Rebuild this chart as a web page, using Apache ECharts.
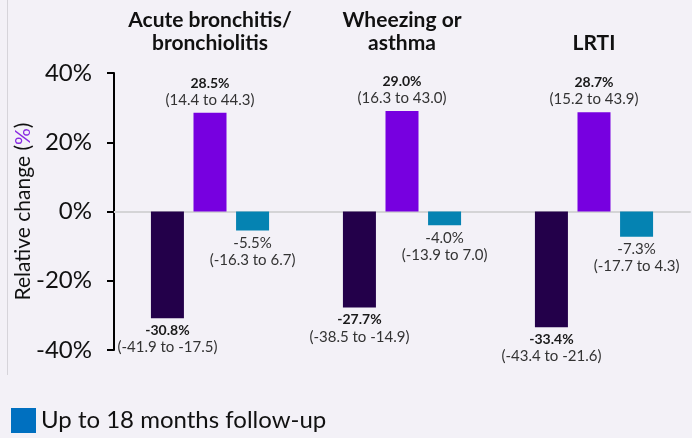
<!DOCTYPE html>
<html>
<head>
<meta charset="utf-8">
<script src="https://cdn.jsdelivr.net/npm/echarts@6/dist/echarts.min.js"></script>
<style>
  html, body { margin: 0; padding: 0; background: #ffffff; }
  #chart { width: 698px; height: 438px; }
</style>
</head>
<body>
<div id="chart"></div>
<script>
// outcomes shown as column groups
const categories = ["Acute bronchitis/\nbronchiolitis", "Wheezing or\nasthma", "LRTI"];
const seriesNames = ["Period A", "Period B", "Up to 18 months follow-up"];

// relative change (%) and 95% CI per series
const darkValues = [-30.8, -27.7, -33.4];
const darkLow = [-41.9, -38.5, -43.4];
const darkHigh = [-17.5, -14.9, -21.6];

const purpleValues = [28.5, 29.0, 28.7];
const purpleLow = [14.4, 16.3, 15.2];
const purpleHigh = [44.3, 43.0, 43.9];

const tealValues = [-5.5, -4.0, -7.3];
const tealLow = [-16.3, -13.9, -17.7];
const tealHigh = [6.7, 7.0, 4.3];

const yTicks = [-40, -20, 0, 20, 40];

const FONT = "Lato, 'Open Sans', sans-serif";

function fmt(v) { return v.toFixed(1); }

function labelFor(values, low, high, boldValue) {
    return function (p) {
        const i = p.dataIndex;
        const tag = boldValue ? "v" : "n";
        return "{" + tag + "|" + fmt(values[i]) + "%}\n{ci|(" + fmt(low[i]) + " to " + fmt(high[i]) + ")}";
    };
}

const labelRich = {
    v: { fontFamily: FONT, fontSize: 14, fontWeight: "bold", color: "#1a1a1a", lineHeight: 17 },
    n: { fontFamily: FONT, fontSize: 15, color: "#333333", lineHeight: 17 },
    ci: { fontFamily: FONT, fontSize: 15, color: "#333333", lineHeight: 17 },
};

const chart = echarts.init(document.getElementById("chart"));

chart.setOption({
    backgroundColor: "#ffffff",
    animation: false,
    graphic: [
        { type: "rect", z: -10, shape: { x: 0, y: 0, width: 692, height: 438 }, style: { fill: "#f3f1f7" } },
        { type: "line", z: -9, shape: { x1: 7.5, y1: 0, x2: 7.5, y2: 375 }, style: { stroke: "#d6d4da", lineWidth: 1 } },
    ],
    grid: { left: 114, right: 8, top: 73, bottom: 88, containLabel: false, outerBoundsMode: "none" },
    legend: {
        left: 11,
        top: 408,
        padding: 0,
        itemWidth: 25,
        itemHeight: 25,
        icon: "rect",
        data: [{ name: seriesNames[2], itemStyle: { color: "#0070c0" } }],
        textStyle: { fontFamily: FONT, fontSize: 24, color: "#111111" },
    },
    xAxis: [
        {
            type: "category",
            data: categories,
            axisLine: { onZero: true, lineStyle: { color: "#d4d4d6", width: 2 } },
            axisTick: { show: false },
            axisLabel: { show: false },
        },
        {
            type: "category",
            data: categories,
            position: "top",
            axisLine: { show: false, onZero: false },
            axisTick: { show: false },
            axisLabel: {
                interval: 0,
                margin: 18,
                fontFamily: FONT,
                fontSize: 21,
                fontWeight: "bold",
                color: "#111111",
                lineHeight: 23,
            },
        },
    ],
    yAxis: {
        type: "value",
        min: yTicks[0],
        max: yTicks[yTicks.length - 1],
        interval: 20,
        name: "{a|Relative change (}{b|%}{a|)}",
        nameLocation: "middle",
        nameGap: 80,
        nameRotate: 90,
        nameMoveOverlap: false,
        nameTextStyle: {
            rich: {
                a: { fontFamily: FONT, fontSize: 21, color: "#111111" },
                b: { fontFamily: FONT, fontSize: 21, color: "#8a2be2" },
            },
        },
        axisLine: { show: true, lineStyle: { color: "#000000", width: 2 } },
        axisTick: { show: true, length: 7, lineStyle: { color: "#000000", width: 2 } },
        axisLabel: { formatter: "{value}%", fontFamily: FONT, fontSize: 24, color: "#111111", margin: 22 },
        splitLine: { show: false },
    },
    series: [
        {
            name: seriesNames[0],
            type: "bar",
            data: darkValues,
            barWidth: 33,
            barGap: "29%",
            itemStyle: { color: "#23004a" },
            label: { show: true, position: "bottom", distance: 4, formatter: labelFor(darkValues, darkLow, darkHigh, true), rich: labelRich },
        },
        {
            name: seriesNames[1],
            type: "bar",
            data: purpleValues,
            barWidth: 33,
            barGap: "29%",
            itemStyle: { color: "#7700e0" },
            label: { show: true, position: "top", distance: 4, formatter: labelFor(purpleValues, purpleLow, purpleHigh, true), rich: labelRich },
        },
        {
            name: seriesNames[2],
            type: "bar",
            data: tealValues,
            barWidth: 33,
            barGap: "29%",
            itemStyle: { color: "#0583b2" },
            label: { show: true, position: "bottom", distance: 4, formatter: labelFor(tealValues, tealLow, tealHigh, false), rich: labelRich },
        },
    ],
});
</script>
</body>
</html>
